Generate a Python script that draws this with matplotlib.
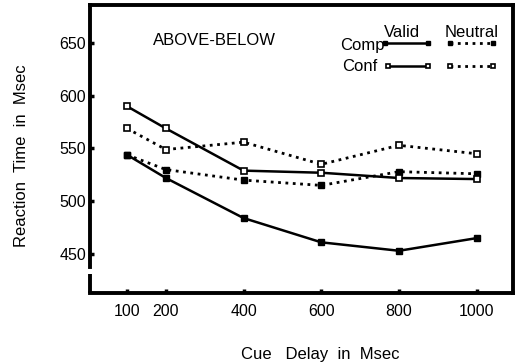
import matplotlib.pyplot as plt

plt.rcParams['font.family'] = ['Liberation Sans', 'DejaVu Sans']

delays = [100, 200, 400, 600, 800, 1000]
comp_valid = [544, 522, 484, 461, 453, 465]
comp_neutral = [544, 530, 520, 515, 528, 526]
conf_valid = [590, 569, 529, 527, 522, 521]
conf_neutral = [569, 549, 556, 535, 553, 545]
yticks = [450, 500, 550, 600, 650]

fig = plt.figure(figsize=(5.18, 3.63), dpi=100)
ax = fig.add_axes([0.174, 0.193, 0.816, 0.793])

ms = 4
ax.plot(delays, comp_valid, '-', color='black', lw=1.8, marker='s', ms=ms, mfc='black')
ax.plot(delays, comp_neutral, ':', color='black', lw=2.0, marker='s', ms=ms, mfc='black')
ax.plot(delays, conf_valid, '-', color='black', lw=1.8, marker='s', ms=ms, mfc='white', mew=1.2)
ax.plot(delays, conf_neutral, ':', color='black', lw=2.0, marker='s', ms=ms, mfc='white', mew=1.2)

ax.set_xlim(5, 1093)
ax.set_ylim(413, 686)
ax.set_xticks(delays)
ax.set_yticks(yticks)
ax.tick_params(direction='in', length=3, width=2.5, labelsize=11.5)
ax.tick_params(axis='x', pad=8)
ax.tick_params(axis='y', pad=3)
for side in ['top', 'right', 'bottom', 'left']:
    ax.spines[side].set_linewidth(2.8)
# broken y axis
ax.spines['left'].set_bounds(438, 686)
ax.plot([0, 0], [0, 0.065], transform=ax.transAxes, color='black', lw=2.8,
        clip_on=False, solid_capstyle='butt')

ax.set_xlabel('Cue   Delay  in  Msec', fontsize=12, labelpad=20, x=0.544)
ax.set_ylabel('Reaction  Time  in  Msec', fontsize=12, labelpad=22, y=0.476)

ax.text(0.149, 0.878, 'ABOVE-BELOW', transform=ax.transAxes, fontsize=12, va='center')

# legend
tr = ax.transAxes
ax.text(0.738, 0.905, 'Valid', transform=tr, fontsize=12, ha='center', va='center')
ax.text(0.903, 0.905, 'Neutral', transform=tr, fontsize=12, ha='center', va='center')
ax.text(0.697, 0.858, 'Comp', transform=tr, fontsize=12, ha='right', va='center')
ax.text(0.596, 0.788, 'Conf', transform=tr, fontsize=12, ha='left', va='center')
ax.plot([0.697, 0.799], [0.868, 0.868], '-', color='black', lw=1.8, marker='s', ms=3.5,
        mfc='black', transform=tr)
ax.plot([0.851, 0.953], [0.868, 0.868], ':', color='black', lw=2.0, marker='s', ms=3.5,
        mfc='black', transform=tr)
ax.plot([0.705, 0.799], [0.788, 0.788], '-', color='black', lw=1.8, marker='s', ms=3.5,
        mfc='white', mew=1.2, transform=tr)
ax.plot([0.851, 0.953], [0.788, 0.788], ':', color='black', lw=2.0, marker='s', ms=3.5,
        mfc='white', mew=1.2, transform=tr)

fig.savefig('out.png', dpi=100)
